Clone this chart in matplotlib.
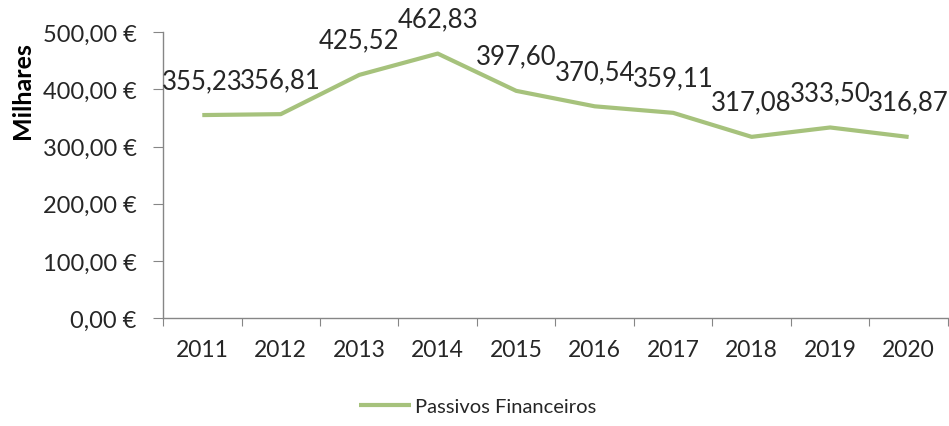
import matplotlib.pyplot as plt
import numpy as np

plt.rcParams['font.family'] = ['Lato', 'DejaVu Sans']

anos = ['2011', '2012', '2013', '2014', '2015', '2016', '2017', '2018', '2019', '2020']
passivos = [355.23, 356.81, 425.52, 462.83, 397.60, 370.54, 359.11, 317.08, 333.50, 316.87]
yticks = [0, 100, 200, 300, 400, 500]

verde = '#a6c27c'
cinza = '#868686'
texto = '#262626'

fig = plt.figure(figsize=(9.49, 4.27), dpi=100)
ax = fig.add_axes([0.1718, 0.2529, 0.827, 0.669])

x = np.arange(len(anos)) + 0.5
line, = ax.plot(x, passivos, color=verde, linewidth=3.0, solid_capstyle='butt',
                label='Passivos Financeiros')

# rotulos de valor por cima de cada ponto
for xi, v in zip(x, passivos):
    ax.annotate(f'{v:.2f}'.replace('.', ','), (xi, v), xytext=(0, 25),
                textcoords='offset points', ha='center', va='center',
                fontsize=18.5, color=texto, annotation_clip=False)

ax.set_xlim(0, len(anos))
ax.set_ylim(0, 500)

# marcas nos limites das categorias, nomes ao centro
ax.set_xticks(np.arange(len(anos) + 1))
ax.set_xticklabels([])
ax.set_xticks(x, minor=True)
ax.set_xticklabels(anos, minor=True, fontsize=16.5, color=texto)
ax.tick_params(axis='x', which='major', length=6, color=cinza, direction='out')
ax.tick_params(axis='x', which='minor', length=0, pad=15)

ax.set_yticks(yticks)
ax.set_yticklabels([f'{v:.2f} €'.replace('.', ',') for v in yticks],
                   fontsize=17, color=texto)
ax.tick_params(axis='y', length=7, color=cinza, pad=12)

for s in ['top', 'right']:
    ax.spines[s].set_visible(False)
for s in ['left', 'bottom']:
    ax.spines[s].set_color(cinza)
    ax.spines[s].set_linewidth(1.0)

ax.set_ylabel('Milhares', fontsize=18, fontweight='bold', color='black')
ax.yaxis.set_label_coords(-0.165, 0.80)

fig.legend(handles=[line], loc='center', bbox_to_anchor=(0.503, 0.045),
           frameon=False, fontsize=14.5, handlelength=2.6, handletextpad=0.2,
           labelcolor=texto)

fig.savefig('out.png', dpi=100)
